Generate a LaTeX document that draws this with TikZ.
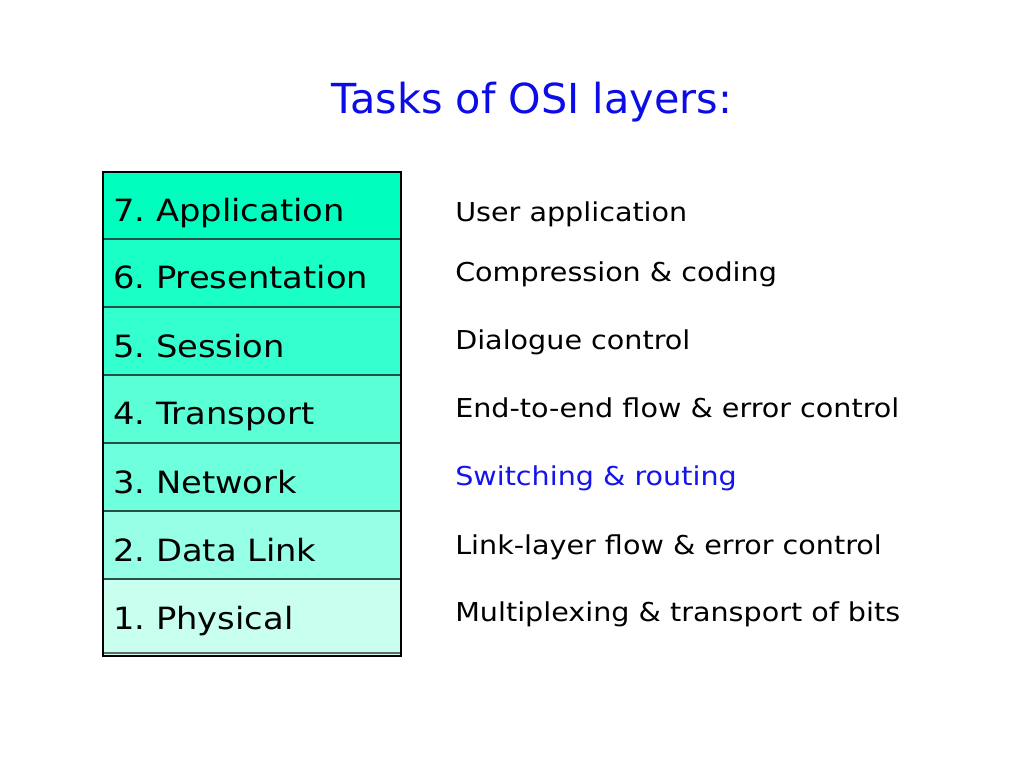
\documentclass[tikz,border=0pt]{standalone}
\usepackage{fontspec}
\setmainfont{DejaVu Sans}[FakeStretch=1.1]
\newfontfamily\titlefont{DejaVu Sans}
\frenchspacing
\definecolor{titleblue}{RGB}{12,12,230}
\definecolor{linkblue}{RGB}{20,20,235}
\definecolor{rowseven}{RGB}{0,255,190}
\definecolor{rowsix}{RGB}{26,255,198}
\definecolor{rowfive}{RGB}{52,255,206}
\definecolor{rowfour}{RGB}{90,255,214}
\definecolor{rowthree}{RGB}{110,255,220}
\definecolor{rowtwo}{RGB}{150,255,230}
\definecolor{rowone}{RGB}{200,255,238}
\definecolor{sepline}{RGB}{40,80,70}
\begin{document}
\begin{tikzpicture}[x=0.75pt,y=-0.75pt,
  layertext/.style={anchor=base west,inner sep=0pt,font=\fontsize{23}{27}\selectfont,text=black},
  tasktext/.style={anchor=base west,inner sep=0pt,font=\fontsize{19.5}{23}\selectfont,text=black}]
\useasboundingbox[fill=white] (0,0) rectangle (1024,768);
\node[anchor=base,inner sep=0pt,font=\titlefont\fontsize{31}{36}\selectfont,text=titleblue] (title) at (532,113) {Tasks of OSI layers:};
% rows
\fill[rowseven] (103,172) rectangle (401,239);
\fill[rowsix] (103,239) rectangle (401,307);
\fill[rowfive] (103,307) rectangle (401,375);
\fill[rowfour] (103,375) rectangle (401,443);
\fill[rowthree] (103,443) rectangle (401,511);
\fill[rowtwo] (103,511) rectangle (401,579);
\fill[rowone] (103,579) rectangle (401,656);
\foreach \yy in {239,307,375,443,511,579} \draw[sepline,line width=0.8pt] (103,\yy) -- (401,\yy);
\draw[gray!80!black,line width=1.2pt] (103,653) -- (401,653);
\draw[black,line width=2.2pt] (103,172) rectangle (401,656);
% layer names
\node[layertext] (l7) at (113,221) {7. Application};
\node[layertext] (l6) at (113,288) {6. Presentation};
\node[layertext] (l5) at (113,357) {5. Session};
\node[layertext] (l4) at (113,424) {4. Transport};
\node[layertext] (l3) at (113,493) {3. Network};
\node[layertext] (l2) at (113,561) {2. Data Link};
\node[layertext] (l1) at (113,629) {1. Physical};
% tasks
\node[tasktext] (t7) at (455,221) {User application};
\node[tasktext] (t6) at (455,281) {Compression \& coding};
\node[tasktext] (t5) at (455,349) {Dialogue control};
\node[tasktext] (t4) at (455,417) {End-to-end flow \& error control};
\node[tasktext,text=linkblue] (t3) at (455,485) {Switching \& routing};
\node[tasktext] (t2) at (455,554) {Link-layer flow \& error control};
\node[tasktext] (t1) at (455,621) {Multiplexing \& transport of bits};
\end{tikzpicture}
\end{document}
